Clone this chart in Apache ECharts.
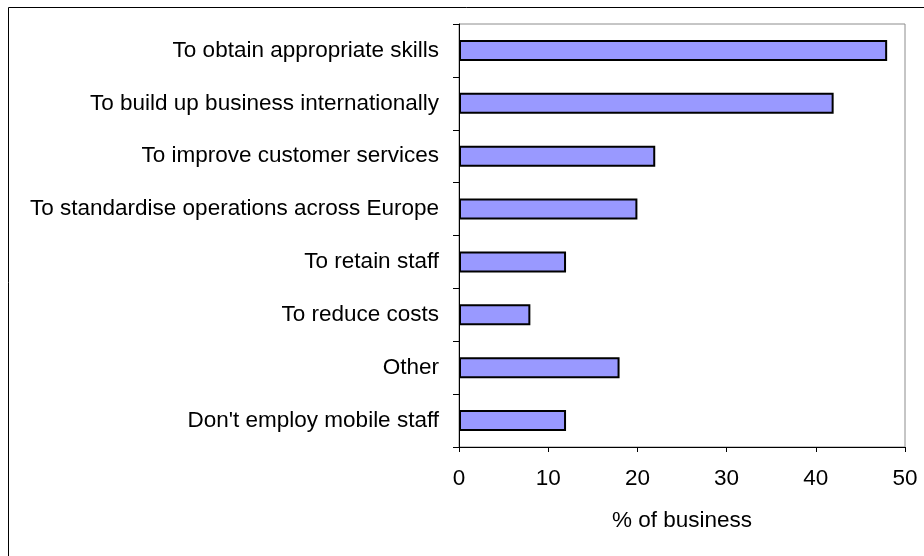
<!DOCTYPE html>
<html>
<head>
<meta charset="utf-8">
<script src="https://cdn.jsdelivr.net/npm/echarts@6/dist/echarts.min.js"></script>
<style>
  html, body { margin: 0; padding: 0; background: #fff; }
  #chart { width: 924px; height: 556px; }
</style>
</head>
<body>
<div id="chart"></div>
<script>
// Reasons for employing mobile staff, listed top to bottom
const reasons = [
  'To obtain appropriate skills',
  'To build up business internationally',
  'To improve customer services',
  'To standardise operations across Europe',
  'To retain staff',
  'To reduce costs',
  'Other',
  "Don't employ mobile staff"
];
// Share of businesses (%) for each reason
const shares = [48, 42, 22, 20, 12, 8, 18, 12];
// Value axis ticks
const xTicks = [0, 10, 20, 30, 40, 50];
const xAxisTitle = '% of business';

const FONT = "'Liberation Sans', Arial, sans-serif";
const FS = 22.5;
const chart = echarts.init(document.getElementById('chart'), null, { renderer: 'canvas' });

chart.setOption({
  animation: false,
  backgroundColor: '#ffffff',
  textStyle: { fontFamily: FONT, color: '#000' },
  graphic: [{
    type: 'rect',
    shape: { x: 8.5, y: 7.5, width: 1000, height: 1000 },
    style: { fill: 'none', stroke: '#000', lineWidth: 1 },
    silent: true,
    z: 0
  }],
  grid: {
    left: 459, right: 19, top: 24, bottom: 109,
    show: true, borderColor: '#8c8c8c', borderWidth: 1, backgroundColor: 'transparent'
  },
  xAxis: {
    type: 'value',
    min: xTicks[0],
    max: xTicks[xTicks.length - 1],
    interval: xTicks[1] - xTicks[0],
    name: xAxisTitle,
    nameLocation: 'middle',
    nameGap: 62,
    nameTextStyle: { fontFamily: FONT, fontSize: FS, color: '#000' },
    axisLine: { show: true, lineStyle: { color: '#000', width: 1 } },
    axisTick: { show: true, length: 5, inside: false, lineStyle: { color: '#000' } },
    axisLabel: { fontFamily: FONT, fontSize: FS, color: '#000', margin: 20 },
    splitLine: { show: false }
  },
  yAxis: {
    type: 'category',
    data: reasons,
    inverse: true,
    axisLine: { show: true, lineStyle: { color: '#000', width: 1 } },
    axisTick: { show: true, length: 6, alignWithLabel: false, lineStyle: { color: '#000' } },
    axisLabel: { fontFamily: FONT, fontSize: FS, color: '#000', margin: 20 },
    splitLine: { show: false }
  },
  series: [{
    type: 'bar',
    data: shares,
    barWidth: 21,
    itemStyle: { color: '#9999ff', borderColor: '#000', borderWidth: 2 },
    label: { show: false }
  }]
});
</script>
</body>
</html>
